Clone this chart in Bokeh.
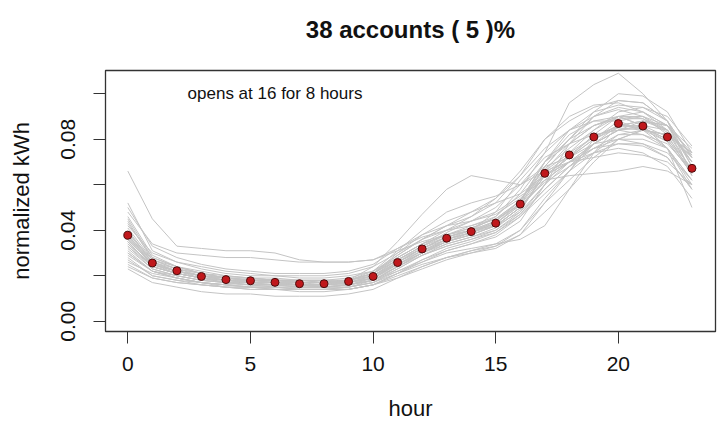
from bokeh.plotting import figure
from bokeh.models import Label, FixedTicker, Range1d, LinearAxis
from bokeh.embed import file_html
from bokeh.resources import INLINE

hours = list(range(24))

# mean profile (red points)
mean_kwh = [0.0378, 0.0256, 0.0222, 0.0197, 0.0183, 0.0178, 0.0171, 0.0165, 0.0165, 0.0175,
            0.0197, 0.0258, 0.0318, 0.0365, 0.0394, 0.0431, 0.0515, 0.0650, 0.0731, 0.0810,
            0.0869, 0.0858, 0.0810, 0.0672]

# individual accounts (gray lines), normalized kWh in thousandths
acct01 = [66, 45, 33, 32, 31, 31, 30, 27, 26, 26, 27, 31, 35, 38, 40, 42, 48, 60, 70, 78, 84, 85, 80, 66]
acct02 = [30, 22, 19, 17, 16, 15, 15, 14, 14, 15, 18, 24, 30, 36, 40, 48, 62, 74, 96, 104, 109, 100, 88, 64]
acct03 = [52, 31, 26, 23, 21, 20, 20, 19, 19, 20, 22, 29, 36, 42, 46, 52, 64, 80, 90, 95, 96, 92, 84, 70]
acct04 = [24, 19, 17, 16, 15, 15, 14, 14, 14, 14, 16, 20, 24, 28, 30, 33, 40, 52, 62, 72, 80, 84, 82, 74]
acct05 = [45, 28, 24, 21, 19, 18, 18, 17, 17, 18, 21, 30, 38, 44, 48, 54, 66, 80, 88, 94, 97, 96, 88, 72]
acct06 = [35, 24, 21, 19, 17, 17, 16, 16, 16, 16, 19, 25, 31, 35, 38, 42, 50, 62, 70, 78, 84, 86, 84, 70]
acct07 = [40, 26, 23, 20, 18, 18, 17, 17, 16, 17, 20, 27, 32, 37, 40, 46, 58, 74, 84, 90, 93, 90, 82, 64]
acct08 = [28, 20, 18, 16, 15, 14, 14, 13, 13, 14, 16, 21, 25, 28, 31, 33, 38, 48, 58, 70, 80, 84, 82, 72]
acct09 = [50, 33, 28, 25, 23, 22, 21, 21, 21, 22, 25, 32, 38, 42, 44, 47, 54, 64, 70, 74, 76, 74, 68, 54]
acct10 = [38, 26, 22, 20, 18, 18, 17, 17, 17, 17, 20, 26, 31, 36, 39, 43, 51, 65, 73, 81, 86, 86, 81, 67]
acct11 = [33, 24, 21, 19, 18, 17, 17, 16, 16, 18, 24, 35, 47, 58, 64, 62, 60, 66, 70, 72, 74, 73, 70, 60]
acct12 = [42, 30, 26, 24, 22, 21, 20, 20, 20, 21, 24, 30, 36, 40, 44, 48, 55, 62, 64, 65, 66, 68, 66, 60]
acct13 = [26, 21, 19, 17, 16, 16, 15, 15, 15, 15, 17, 22, 27, 31, 34, 37, 44, 60, 78, 90, 97, 96, 88, 68]
acct14 = [36, 25, 22, 20, 19, 18, 18, 17, 17, 18, 21, 28, 34, 38, 41, 45, 53, 67, 76, 84, 90, 89, 83, 66]
acct15 = [31, 22, 19, 17, 16, 15, 15, 14, 14, 15, 17, 23, 29, 34, 37, 41, 49, 64, 70, 76, 80, 80, 76, 62]
acct16 = [30, 22, 19, 17, 15, 15, 14, 14, 14, 14, 16, 19, 23, 27, 30, 32, 38, 52, 66, 80, 88, 90, 86, 74]
acct17 = [46, 29, 24, 21, 20, 19, 18, 18, 18, 18, 21, 29, 36, 42, 48, 52, 56, 64, 72, 82, 90, 92, 86, 70]
acct18 = [34, 24, 21, 19, 17, 17, 16, 16, 16, 17, 19, 24, 29, 33, 36, 39, 46, 56, 66, 74, 82, 84, 82, 74]
acct19 = [32, 23, 20, 18, 17, 16, 16, 15, 15, 16, 18, 24, 30, 35, 39, 44, 53, 68, 80, 92, 100, 99, 92, 74]
acct20 = [44, 27, 23, 21, 19, 18, 18, 18, 17, 18, 21, 28, 34, 38, 41, 45, 53, 70, 82, 88, 90, 86, 76, 58]
acct21 = [36, 25, 22, 20, 19, 19, 18, 18, 18, 18, 20, 25, 30, 34, 37, 40, 47, 58, 68, 78, 84, 88, 86, 73]
acct22 = [29, 22, 20, 18, 17, 16, 16, 16, 15, 16, 18, 23, 29, 33, 36, 40, 48, 66, 78, 86, 90, 90, 84, 66]
acct23 = [48, 34, 30, 29, 28, 28, 27, 26, 26, 26, 27, 32, 37, 40, 42, 45, 51, 61, 68, 74, 78, 77, 72, 58]
acct24 = [38, 25, 21, 19, 17, 16, 16, 15, 15, 16, 19, 26, 32, 37, 40, 43, 51, 68, 80, 90, 94, 92, 86, 68]
acct25 = [27, 20, 18, 17, 16, 15, 15, 15, 15, 15, 17, 21, 26, 31, 34, 38, 46, 58, 68, 76, 82, 82, 78, 66]
acct26 = [41, 27, 23, 21, 19, 18, 18, 17, 17, 18, 21, 27, 33, 39, 44, 50, 60, 72, 78, 82, 84, 82, 76, 62]
acct27 = [35, 24, 21, 19, 18, 17, 17, 16, 16, 17, 19, 25, 30, 35, 38, 42, 50, 64, 72, 80, 86, 85, 80, 66]
acct28 = [34, 25, 22, 20, 19, 18, 18, 17, 17, 18, 22, 31, 40, 48, 52, 55, 60, 68, 72, 78, 80, 78, 72, 58]
acct29 = [37, 25, 22, 19, 18, 17, 17, 16, 16, 17, 19, 25, 31, 36, 39, 43, 52, 70, 84, 92, 95, 94, 88, 72]
acct30 = [23, 17, 15, 13, 12, 12, 11, 11, 11, 12, 14, 19, 24, 28, 31, 34, 40, 54, 66, 78, 86, 88, 86, 76]
acct31 = [39, 27, 24, 21, 19, 19, 18, 18, 17, 18, 20, 26, 32, 36, 39, 42, 50, 64, 72, 80, 85, 84, 79, 65]
acct32 = [33, 23, 20, 18, 17, 16, 16, 16, 15, 16, 18, 24, 30, 35, 38, 42, 50, 62, 70, 76, 78, 78, 74, 62]
acct33 = [35, 24, 21, 19, 18, 17, 17, 16, 16, 16, 18, 22, 26, 30, 32, 34, 36, 42, 58, 74, 86, 88, 84, 72]
acct34 = [43, 28, 24, 22, 20, 19, 19, 18, 18, 19, 22, 28, 34, 40, 46, 54, 64, 76, 84, 88, 88, 84, 76, 60]
acct35 = [37, 26, 22, 20, 18, 18, 17, 17, 17, 17, 19, 26, 32, 37, 40, 44, 53, 70, 80, 86, 89, 89, 84, 70]
acct36 = [39, 26, 22, 20, 18, 17, 17, 16, 16, 17, 20, 27, 33, 38, 42, 46, 56, 70, 78, 86, 90, 86, 76, 50]
acct37 = [25, 19, 17, 16, 15, 14, 14, 14, 14, 14, 16, 21, 27, 32, 35, 39, 47, 60, 74, 84, 92, 94, 90, 77]
acct38 = [36, 25, 22, 20, 19, 18, 18, 17, 17, 18, 21, 27, 33, 37, 40, 44, 52, 66, 74, 81, 86, 85, 79, 65]

accounts_milli = [acct01, acct02, acct03, acct04, acct05, acct06, acct07, acct08, acct09, acct10,
                  acct11, acct12, acct13, acct14, acct15, acct16, acct17, acct18, acct19, acct20,
                  acct21, acct22, acct23, acct24, acct25, acct26, acct27, acct28, acct29, acct30,
                  acct31, acct32, acct33, acct34, acct35, acct36, acct37, acct38]

x_ticks = [0, 5, 10, 15, 20]
y_ticks = [0.0, 0.02, 0.04, 0.06, 0.08, 0.10]
y_tick_labels = {0.0: "0.00", 0.02: "", 0.04: "0.04", 0.06: "", 0.08: "0.08", 0.1: ""}

title_text = "38 accounts ( 5 )%"
note_text = "opens at 16 for 8 hours"
x_title = "hour"
y_title = "normalized kWh"

FONT = "Liberation Sans"

p = figure(width=723, height=423, output_backend="svg", toolbar_location=None,
           x_range=Range1d(-0.91, 23.96), y_range=Range1d(-0.0045, 0.1102),
           min_border_left=105, min_border_right=8, min_border_top=70, min_border_bottom=91)

p.xgrid.visible = False
p.ygrid.visible = False
p.outline_line_color = "#333333"
p.outline_line_width = 1.3
p.background_fill_color = "white"
p.border_fill_color = "white"

for acc in accounts_milli:
    p.line(hours, [v / 1000 for v in acc], line_color="#c4c4c4", line_width=1)

p.scatter(hours, mean_kwh, size=8, fill_color="#c0181c", line_color="#4a0d0d", line_width=1)

# axes
p.xaxis.ticker = FixedTicker(ticks=x_ticks)
p.yaxis.ticker = FixedTicker(ticks=y_ticks)
p.yaxis.major_label_overrides = y_tick_labels
for ax in (p.xaxis[0], p.yaxis[0]):
    ax.minor_tick_line_color = None
    ax.major_tick_in = 0
    ax.major_tick_out = 12
    ax.major_tick_line_color = "#333333"
    ax.axis_line_color = "#333333"
    ax.major_label_text_font = FONT
    ax.major_label_text_font_size = "21px"
    ax.major_label_text_color = "#111111"
    ax.axis_label_text_font = FONT
    ax.axis_label_text_font_size = "22px"
    ax.axis_label_text_font_style = "normal"
    ax.axis_label_text_color = "#111111"

p.xaxis.axis_label = x_title
p.xaxis.major_label_standoff = 13
p.xaxis.axis_label_standoff = 22
p.yaxis.axis_label = y_title
p.yaxis.major_label_orientation = "vertical"
p.yaxis.major_label_standoff = 18
p.yaxis.axis_label_standoff = 25

# chart title carried by a tick-less axis above the plot box
top_axis = LinearAxis(ticker=FixedTicker(ticks=[]), axis_label=title_text,
                      axis_line_color=None, major_tick_line_color=None,
                      minor_tick_line_color=None, major_label_text_font_size="0px",
                      axis_label_text_font=FONT, axis_label_text_font_size="24px",
                      axis_label_text_font_style="bold", axis_label_text_color="#111111",
                      axis_label_standoff=28)
p.add_layout(top_axis, "above")

# note inside the plot box
p.add_layout(Label(x=6, y=0.100, text=note_text, text_font=FONT, text_font_size="17px",
                   text_align="center", text_baseline="middle", text_color="#111111"))

open("out.html", "w").write(file_html(p, INLINE))
